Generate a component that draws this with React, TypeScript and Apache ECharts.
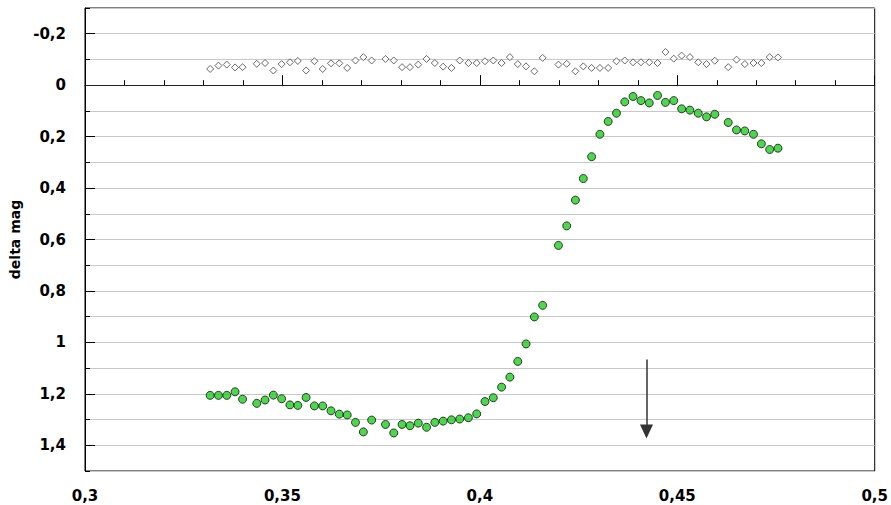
import React, { useEffect, useRef } from "react";
import * as echarts from "echarts";

const phase = [
  0.3317, 0.3338, 0.3359, 0.338, 0.3399, 0.3435, 0.3456, 0.3477, 0.3498, 0.3519,
  0.3539, 0.356, 0.3581, 0.3602, 0.3623, 0.3644, 0.3664, 0.3685, 0.3705, 0.3726,
  0.3761, 0.3782, 0.3803, 0.3823, 0.3844, 0.3865, 0.3886, 0.3907, 0.3928, 0.3949,
  0.3971, 0.3992, 0.4013, 0.4034, 0.4055, 0.4076, 0.4096, 0.4117, 0.4138, 0.4159,
  0.4199, 0.422, 0.4242, 0.4262, 0.4283, 0.4304, 0.4325, 0.4346, 0.4367, 0.4388,
  0.4408, 0.4429, 0.445, 0.447, 0.4491, 0.4511, 0.4532, 0.4553, 0.4574, 0.4595,
  0.4629, 0.465, 0.4671, 0.4693, 0.4713, 0.4734, 0.4755,
];

const variableMag = [
  1.206, 1.206, 1.206, 1.192, 1.221, 1.237, 1.224, 1.205, 1.219, 1.243,
  1.245, 1.214, 1.247, 1.247, 1.266, 1.279, 1.282, 1.311, 1.348, 1.302,
  1.319, 1.352, 1.319, 1.324, 1.314, 1.33, 1.311, 1.306, 1.301, 1.298,
  1.293, 1.278, 1.23, 1.215, 1.174, 1.135, 1.074, 1.006, 0.901, 0.856,
  0.623, 0.547, 0.447, 0.363, 0.278, 0.191, 0.141, 0.109, 0.065, 0.044,
  0.06, 0.069, 0.04, 0.067, 0.06, 0.092, 0.097, 0.109, 0.123, 0.113,
  0.145, 0.174, 0.178, 0.191, 0.228, 0.25, 0.245,
];

const checkMag = [
  -0.063, -0.076, -0.08, -0.069, -0.07, -0.083, -0.086, -0.057, -0.082, -0.089,
  -0.094, -0.057, -0.093, -0.063, -0.085, -0.085, -0.067, -0.096, -0.109, -0.096,
  -0.102, -0.096, -0.07, -0.07, -0.08, -0.102, -0.086, -0.072, -0.067, -0.096,
  -0.086, -0.086, -0.093, -0.096, -0.086, -0.109, -0.082, -0.073, -0.054, -0.106,
  -0.08, -0.083, -0.054, -0.073, -0.067, -0.067, -0.067, -0.093, -0.096, -0.089,
  -0.089, -0.089, -0.086, -0.129, -0.103, -0.115, -0.109, -0.089, -0.082, -0.095,
  -0.07, -0.099, -0.082, -0.086, -0.086, -0.109, -0.108,
];

const yMajorTicks = [-0.2, 0, 0.2, 0.4, 0.6, 0.8, 1, 1.2, 1.4];

// Arrow annotation: phase and magnitudes of line top, line end, head centre
const arrowPhase = 0.4422;
const arrowTop = 1.067;
const arrowLineEnd = 1.335;
const arrowHead = 1.3465;

const labelFont = "'DejaVu Sans', Verdana, sans-serif";

const fmt = (v: number) => {
  const r = Math.round(v * 1000) / 1000;
  return String(r).replace(".", ",");
};

export default function App() {
  const ref = useRef<HTMLDivElement>(null);
  useEffect(() => {
    if (!ref.current) return;
    const chart = echarts.init(ref.current, undefined, { renderer: "svg" });
    const labelStyle = {
      fontFamily: labelFont,
      fontWeight: "bold" as const,
      fontSize: 15,
      color: "#000",
    };
    chart.setOption({
      animation: false,
      backgroundColor: "#fff",
      grid: {
        left: 85,
        right: 16,
        top: 8,
        bottom: 34,
        show: true,
        borderColor: "#000",
        borderWidth: 1,
        backgroundColor: "transparent",
      },
      xAxis: {
        type: "value",
        min: 0.3,
        max: 0.5,
        interval: 0.05,
        axisLine: { show: true, lineStyle: { color: "#000", width: 1 } },
        axisTick: { show: true, inside: true, length: 10, lineStyle: { color: "#000" } },
        minorTick: { show: true, splitNumber: 5, length: 5, lineStyle: { color: "#000" } },
        splitLine: { show: false },
        axisLabel: { ...labelStyle, margin: 17, formatter: (v: number) => fmt(v) },
      },
      yAxis: [
        {
          type: "value",
          inverse: true,
          min: -0.3,
          max: 1.5,
          interval: 0.1,
          position: "left",
          name: "delta mag",
          nameLocation: "middle",
          nameGap: 62,
          nameTextStyle: {
            fontFamily: labelFont,
            fontWeight: "bold",
            fontSize: 14,
            color: "#000",
          },
          axisLine: { show: true, lineStyle: { color: "#000", width: 1 } },
          axisTick: { show: true, inside: true, length: 5, lineStyle: { color: "#000" } },
          splitLine: { show: true, lineStyle: { color: "#c8c8c8", width: 1 } },
          axisLabel: {
            ...labelStyle,
            margin: 19,
            formatter: (v: number) => {
              const k = Math.round(v * 10);
              return k % 2 === 0 ? fmt(v) : "";
            },
          },
        },
        {
          type: "value",
          inverse: true,
          min: -0.3,
          max: 1.5,
          interval: 0.1,
          position: "left",
          axisLine: { show: false },
          axisTick: {
            show: true,
            inside: true,
            length: 10,
            customValues: yMajorTicks,
            lineStyle: { color: "#000" },
          },
          splitLine: { show: false },
          axisLabel: { show: false },
        },
      ],
      series: [
        {
          type: "scatter",
          name: "check",
          data: phase.map((p, i) => [p, checkMag[i]]),
          symbol: "diamond",
          symbolSize: 7,
          itemStyle: { color: "#fff", borderColor: "#444", borderWidth: 1 },
          markLine: {
            silent: true,
            symbol: ["none", "none"],
            label: { show: false },
            lineStyle: { color: "#222", width: 1, type: "solid" },
            data: [{ yAxis: 0 }],
          },
          z: 2,
        },
        {
          type: "scatter",
          name: "variable",
          data: phase.map((p, i) => [p, variableMag[i]]),
          symbol: "circle",
          symbolSize: 8,
          itemStyle: { color: "#1ecf1e", borderColor: "#111", borderWidth: 1 },
          z: 3,
        },
        {
          type: "scatter",
          name: "arrow",
          data: [[arrowPhase, arrowHead]],
          symbol: "triangle",
          symbolRotate: 180,
          symbolSize: [13, 14],
          itemStyle: { color: "#000" },
          silent: true,
          markLine: {
            silent: true,
            symbol: ["none", "none"],
            label: { show: false },
            lineStyle: { color: "#333", width: 1.5, type: "solid" },
            data: [
              [
                { coord: [arrowPhase, arrowTop] },
                { coord: [arrowPhase, arrowLineEnd] },
              ],
            ],
          },
          z: 4,
        },
      ],
    });
    return () => chart.dispose();
  }, []);
  return (
    <div
      ref={ref}
      style={{ position: "fixed", left: 0, top: 0, width: 891, height: 505 }}
    />
  );
}
